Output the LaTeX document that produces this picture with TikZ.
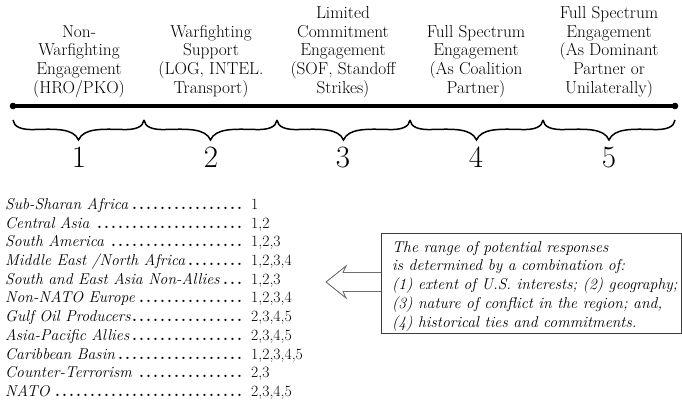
\documentclass[tikz,border=0pt]{standalone}
\usepackage{tikz}
\usetikzlibrary{calc}
\definecolor{FrameGray}{HTML}{3C3C3C}
\definecolor{ArrowGray}{HTML}{6E6E6E}

\newcommand{\leaderdots}{\leaders\hbox to 7pt{\hss\textbf{.}\hss}\hfill}
\newcommand{\regionrow}[2]{\makebox[238pt][l]{\textit{#1}\leaderdots}\hspace{8pt}#2}

\begin{document}
\begin{tikzpicture}[
    x=1pt, y=-1pt,
    level/.style={align=center, anchor=south, inner sep=0pt, font=\fontsize{17.3}{18.75}\selectfont},
    stage/.style={anchor=base, inner sep=0pt, font=\fontsize{31}{31}\selectfont},
    spine/.style={line width=3.6pt},
    brc/.style={line width=1.5pt, line join=miter},
    card/.style={draw=FrameGray, line width=1.3pt, inner sep=0pt},
    field/.style={anchor=base west, inner sep=0pt, font=\fontsize{15.7}{18.75}\selectfont\itshape},
    hollow/.style={draw=ArrowGray, line width=0.9pt},
  ]
    \useasboundingbox (0,0) rectangle (682,403);

    % ---- spectrum labels ----
    \node[level] (lvl1) at (79,98) {Non-\\Warfighting\\Engagement\\(HRO/PKO)};
    \node[level] (lvl2) at (211,98) {Warfighting\\Support\\(LOG, INTEL.\\Transport)};
    \node[level] (lvl3) at (343,98) {Limited\\Commitment\\Engagement\\(SOF, Standoff\\Strikes)};
    \node[level] (lvl4) at (476,98) {Full Spectrum\\Engagement\\(As Coalition\\Partner)};
    \node[level] (lvl5) at (609,98) {Full Spectrum\\Engagement\\(As Dominant\\Partner or\\Unilaterally)};

    % ---- spectrum line ----
    \coordinate (left) at (13,106);
    \coordinate (right) at (675,106);
    \draw[spine] (left) -- (right);
    \fill (left) circle (3.3);
    \fill (right) circle (3.3);

    % ---- braces ----
    \foreach \xa/\xb in {13/144, 144/277, 277/410, 410/543, 543/675} {
      \pgfmathsetmacro{\xm}{(\xa+\xb)/2}
      \draw[brc] (\xa,120) .. controls (\xa+1,127) and (\xa+8,130) .. (\xa+22,129.5)
        .. controls (\xm-24,129) and (\xm-5,128) .. (\xm,140)
        .. controls (\xm+5,128) and (\xm+24,129) .. (\xb-22,129.5)
        .. controls (\xb-8,130) and (\xb-1,127) .. (\xb,120);
    }

    \node[stage] (n1) at (79,168) {1};
    \node[stage] (n2) at (211,168) {2};
    \node[stage] (n3) at (343,168) {3};
    \node[stage] (n4) at (476,168) {4};
    \node[stage] (n5) at (609,168) {5};

    % ---- regions ----
    \node[anchor=north west, inner sep=0pt, align=left, font=\fontsize{15.7}{18.7}\selectfont] (regions) at (5,198) {%
      \regionrow{Sub-Sharan Africa}{1}\\
      \regionrow{Central Asia}{1,2}\\
      \regionrow{South America}{1,2,3}\\
      \regionrow{Middle East /North Africa}{1,2,3,4}\\
      \regionrow{South and East Asia Non-Allies}{1,2,3}\\
      \regionrow{Non-NATO Europe}{1,2,3,4}\\
      \regionrow{Gulf Oil Producers}{2,3,4,5}\\
      \regionrow{Asia-Pacific Allies}{2,3,4,5}\\
      \regionrow{Caribbean Basin}{1,2,3,4,5}\\
      \regionrow{Counter-Terrorism}{2,3}\\
      \regionrow{NATO}{2,3,4,5}};

    % ---- factors ----
    \node[card, minimum width=300pt, minimum height=100pt, anchor=north west] (factors) at (381,233) {};
    \node[field] at ([xshift=11pt,yshift=-19pt]factors.north west) {The range of potential responses};
    \node[field] at ([xshift=11pt,yshift=-37.75pt]factors.north west) {is determined by a combination of:};
    \node[field] at ([xshift=11pt,yshift=-56.5pt]factors.north west) {(1) extent of U.S. interests; (2) geography;};
    \node[field] at ([xshift=11pt,yshift=-75.25pt]factors.north west) {(3) nature of conflict in the region; and,};
    \node[field] at ([xshift=11pt,yshift=-94pt]factors.north west) {(4) historical ties and commitments.};

    % ---- arrow ----
    \coordinate (tip) at (326,282);
    \draw[hollow] ($(factors.west |- tip)+(0,-9.5)$) -- (343,272.5) -- (346,266) -- (tip)
      -- (346,298) -- (343,291.5) -- ($(factors.west |- tip)+(0,9.5)$);
  \end{tikzpicture}
\end{document}
